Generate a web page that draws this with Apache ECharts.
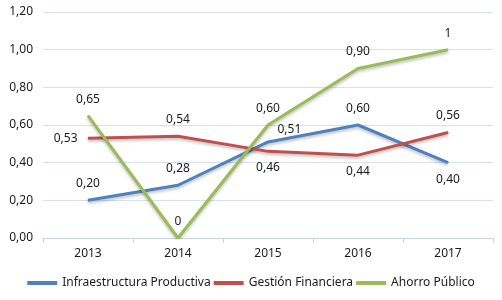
<!DOCTYPE html>
<html>
<head>
<meta charset="utf-8">
<script src="https://cdn.jsdelivr.net/npm/echarts@6/dist/echarts.min.js"></script>
<style>
  html, body { margin: 0; padding: 0; background: #fff; }
  #chart { width: 502px; height: 300px; }
</style>
</head>
<body>
<div id="chart"></div>
<script>
// datos
const years = ['2013', '2014', '2015', '2016', '2017'];
const infraestructura = [0.20, 0.28, 0.51, 0.60, 0.40];
const gestion = [0.53, 0.54, 0.46, 0.44, 0.56];
const ahorro = [0.65, 0, 0.60, 0.90, 1];

const fmt = v => (Number.isInteger(v) ? String(v) : v.toFixed(2).replace('.', ','));

// posición de cada etiqueta
const posInfra = ['top', 'top', [10, -18], 'top', 'bottom'];
const posGestion = ['left', 'top', 'bottom', 'bottom', 'top'];
const posAhorro = ['top', 'top', 'top', 'top', 'top'];

const mk = (name, values, color, pos) => ({
  name,
  type: 'line',
  symbol: 'circle',
  symbolSize: 1,
  showSymbol: true,
  data: values.map((v, i) => ({
    value: v,
    label: { show: true, position: pos[i] }
  })),
  lineStyle: {
    color, width: 3,
    shadowColor: 'rgba(0,0,0,0.25)', shadowBlur: 3, shadowOffsetY: 2
  },
  itemStyle: { color },
  label: {
    show: true, distance: 10, color: '#1a1a1a', fontSize: 12,
    fontFamily: 'Noto Sans',
    formatter: p => fmt(p.value)
  },
  z: 2
});

const chart = echarts.init(document.getElementById('chart'));
chart.setOption({
  animation: false,
  grid: { left: 43, right: 9, top: 12, bottom: 62 },
  legend: {
    bottom: 6,
    left: 'center',
    itemWidth: 30,
    itemHeight: 4,
    itemGap: 3,
    icon: 'rect',
    textStyle: { color: '#1a1a1a', fontSize: 12, fontFamily: 'Noto Sans' },
    data: ['Infraestructura Productiva', 'Gestión Financiera', 'Ahorro Público']
  },
  xAxis: {
    type: 'category',
    data: years,
    boundaryGap: true,
    axisLine: { lineStyle: { color: '#c9d6e8' } },
    axisTick: { show: true, length: 5, lineStyle: { color: '#c9d6e8' } },
    axisLabel: { color: '#1a1a1a', fontSize: 12, fontFamily: 'Noto Sans', margin: 10 }
  },
  yAxis: {
    type: 'value',
    min: 0,
    max: 1.2,
    interval: 0.2,
    axisLine: { show: false },
    axisTick: { show: false },
    splitLine: { lineStyle: { color: '#d6e1ef' } },
    axisLabel: {
      color: '#1a1a1a', fontSize: 12, fontFamily: 'Noto Sans', margin: 10,
      formatter: v => v.toFixed(2).replace('.', ',')
    }
  },
  series: [
    mk('Infraestructura Productiva', infraestructura, '#4f81bd', posInfra),
    mk('Gestión Financiera', gestion, '#c0504d', posGestion),
    mk('Ahorro Público', ahorro, '#9bbb59', posAhorro)
  ]
});
</script>
</body>
</html>
